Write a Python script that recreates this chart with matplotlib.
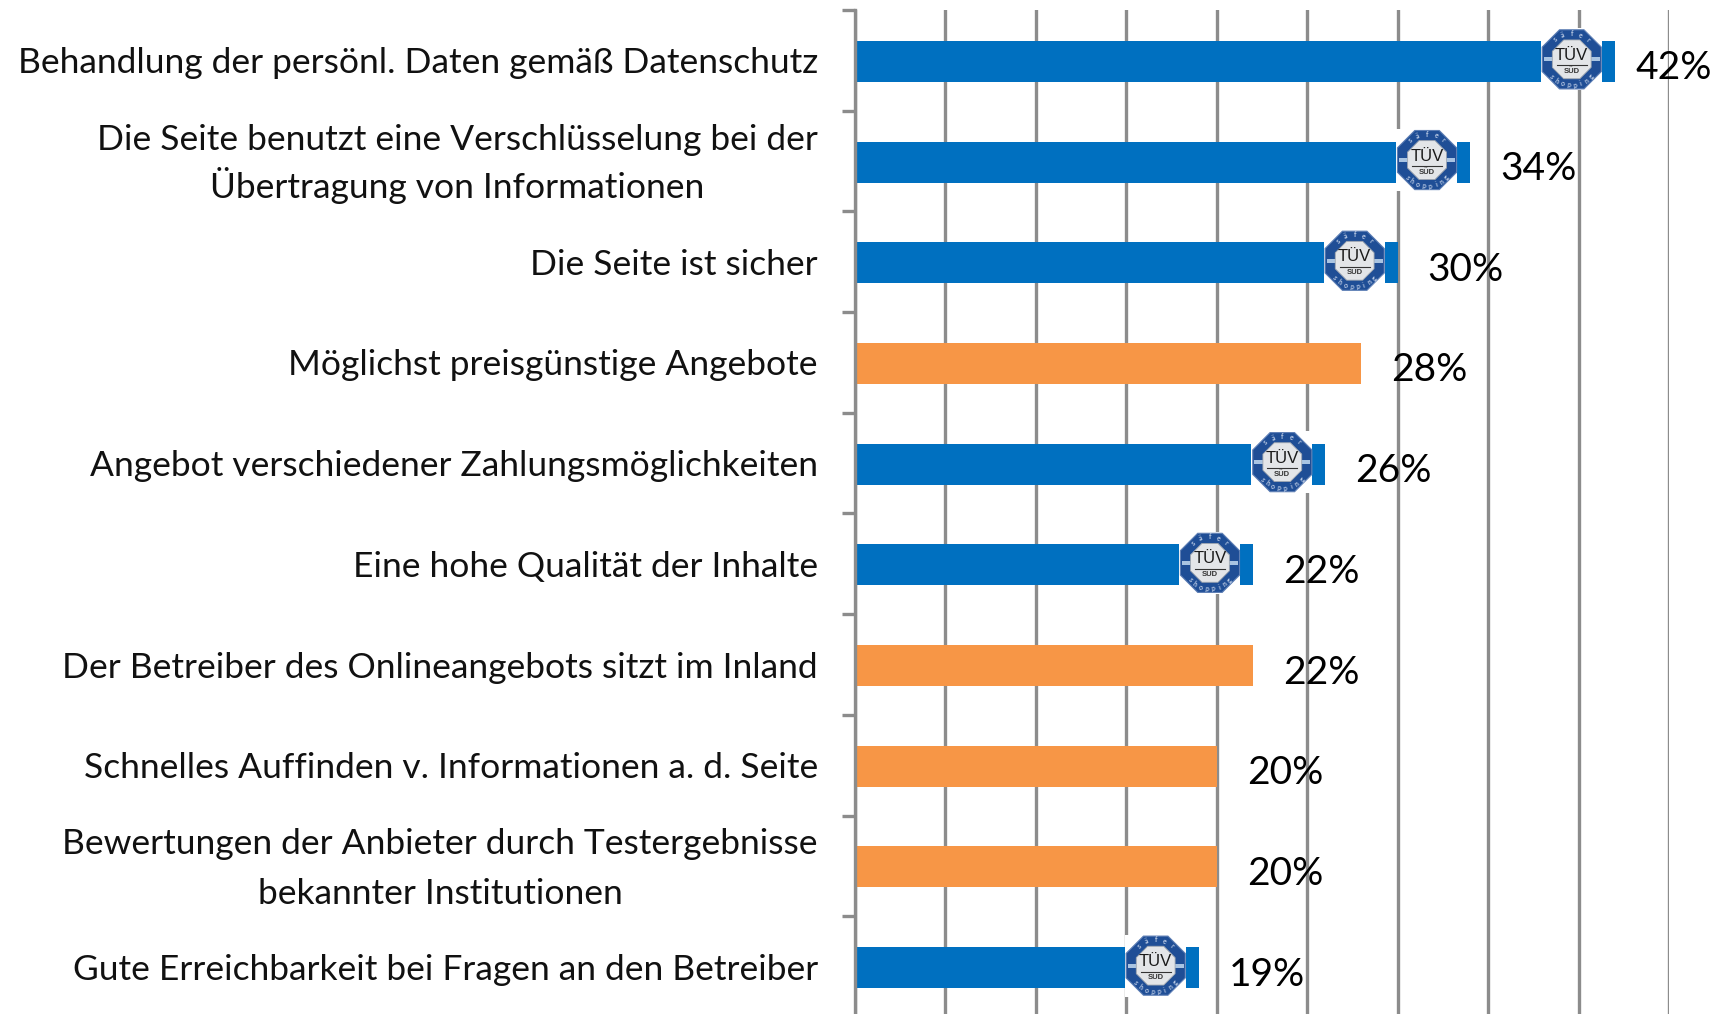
import numpy as np
import matplotlib
matplotlib.use("Agg")
import matplotlib.pyplot as plt
from matplotlib.patches import Polygon, Rectangle

categories = [
    "Behandlung der persönl. Daten gemäß Datenschutz",
    "Die Seite benutzt eine Verschlüsselung bei der\nÜbertragung von Informationen",
    "Die Seite ist sicher",
    "Möglichst preisgünstige Angebote",
    "Angebot verschiedener Zahlungsmöglichkeiten",
    "Eine hohe Qualität der Inhalte",
    "Der Betreiber des Onlineangebots sitzt im Inland",
    "Schnelles Auffinden v. Informationen a. d. Seite",
    "Bewertungen der Anbieter durch Testergebnisse\nbekannter Institutionen",
    "Gute Erreichbarkeit bei Fragen an den Betreiber",
]
values = [42, 34, 30, 28, 26, 22, 22, 20, 20, 19]
certified = [True, True, True, False, True, True, False, False, False, True]
xticks = [0, 5, 10, 15, 20, 25, 30, 35, 40, 45]

BLUE, ORANGE, GRAY = "#0070C0", "#F79646", "#8C8C8C"
W, H = 1714, 1014
plt.rcParams["font.family"] = ["Lato", "DejaVu Sans"]
fig = plt.figure(figsize=(W / 100, H / 100), dpi=100, facecolor="white")
L, R, T, B = 855, 1669, 10, 1017
ax = fig.add_axes([L / W, 1 - B / H, (R - L) / W, (B - T) / H])
ax.set_xlim(0, 45)
ax.set_ylim(9.5, -0.5)
xpx = 45 / (R - L)
ypx = 10 / (B - T)

ax.set_axisbelow(True)
ax.grid(axis="x", color=GRAY, lw=2.4)
for s in ("top", "right", "bottom"):
    ax.spines[s].set_visible(False)
ax.spines["left"].set_color(GRAY)
ax.spines["left"].set_linewidth(2.4)
ax.set_xticks(xticks)
ax.tick_params(axis="x", length=0, labelbottom=False)
ax.set_yticks(np.arange(-0.5, 9.5, 1))
ax.set_yticklabels([])
ax.tick_params(axis="y", length=9.5, width=2.4, color=GRAY)

y = np.arange(len(values))
ax.barh(y + 1 * ypx, values, height=41 * ypx, color=[BLUE if c else ORANGE for c in certified], zorder=2)


def octagon(cx, cy, r):
    a = np.deg2rad(np.arange(22.5, 360, 45))
    return np.c_[cx + r * np.cos(a) * xpx, cy + r * np.sin(a) * ypx]


def arc_text(cx, cy, word, centre, step, radius, flip):
    n = len(word)
    for i, ch in enumerate(word):
        ang = centre + (i - (n - 1) / 2) * step * (-1 if not flip else 1)
        rad = np.deg2rad(ang)
        ax.text(cx + radius * np.cos(rad) * xpx, cy - radius * np.sin(rad) * ypx, ch,
                fontsize=5, color="#B9C9E3", ha="center", va="center", weight="bold",
                rotation=ang - 90 if not flip else ang + 90, zorder=6)


def badge(v, row):
    cx = v - 43 * xpx
    cy = row - 1 * ypx
    ax.add_patch(Rectangle((cx - 31 * xpx, cy - 31 * ypx), 61 * xpx, 62 * ypx, fc="white", ec="none", zorder=3))
    ax.add_patch(Polygon(octagon(cx, cy, 32), fc="#1F4E96", ec="#5E7FB5", lw=0.8, zorder=4))
    ax.add_patch(Rectangle((cx - 28 * xpx, cy - 2 * ypx), 56 * xpx, 4 * ypx, fc="#A9C4E2", ec="none", zorder=4.5))
    ax.add_patch(Polygon(octagon(cx, cy, 21), fc="#E3E5E8", ec="#9FA6B0", lw=0.6, zorder=5))
    ax.text(cx, cy - 4 * ypx, "TÜV", fontsize=12, ha="center", va="center", color="#1A1A1A",
            family="Liberation Sans", zorder=6)
    ax.plot([cx - 15 * xpx, cx + 15 * xpx], [cy + 6 * ypx] * 2, color="#333333", lw=0.8, zorder=6)
    ax.text(cx, cy + 12 * ypx, "SÜD", fontsize=5.5, ha="center", va="center", color="#333333",
            family="Liberation Sans", weight="bold", zorder=6)
    arc_text(cx, cy, "säfer", 90, 20, 26, False)
    arc_text(cx, cy, "shopping", 270, 14, 26, True)


for i, (v, c) in enumerate(zip(values, certified)):
    if c:
        badge(v, i)
    spacing = 1.68 if categories[i].startswith("Bewertungen") else 1.34
    ax.text(-37 * xpx, i + 3 * ypx, categories[i], ha="right", va="center", multialignment="center",
            fontsize=25.5, color="#111111", linespacing=spacing, clip_on=False)
    gap = 21 if i == 0 else 30
    ax.text(v + gap * xpx, i + 8 * ypx, f"{v}%", ha="left", va="center",
            fontsize=28, color="black", clip_on=False, zorder=7)

fig.savefig("out.png", dpi=100)
